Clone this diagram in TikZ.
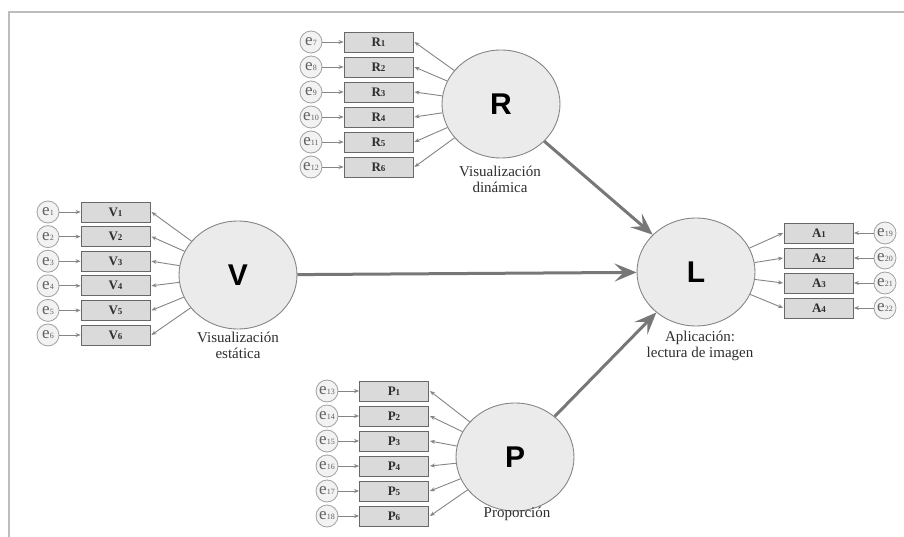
\documentclass[tikz,border=0pt]{standalone}
\usepackage{fontspec}
\setmainfont{Liberation Serif}
\newfontfamily\arialf{Liberation Sans}
\usetikzlibrary{arrows.meta,shapes.geometric}
\definecolor{framec}{HTML}{BDBDBD}
\definecolor{latfill}{HTML}{EBEBEB}
\definecolor{latdraw}{HTML}{858585}
\definecolor{boxfill}{HTML}{DADADA}
\definecolor{boxdraw}{HTML}{686868}
\definecolor{errfill}{HTML}{F2F2F2}
\definecolor{errdraw}{HTML}{A0A0A0}
\definecolor{arrc}{HTML}{858585}
\definecolor{bigc}{HTML}{777777}
\definecolor{txtc}{HTML}{2E2E2E}
\newcommand{\obslab}[2]{#1{\fontsize{9}{9}\selectfont #2}}
\newcommand{\errlab}[1]{e{\fontsize{8}{8}\selectfont #1}}
\begin{document}
\begin{tikzpicture}[x=1pt,y=-1pt,
  latent/.style={ellipse,draw=latdraw,fill=latfill,line width=0.9pt,minimum width=118pt,minimum height=108pt,inner sep=0pt,font=\arialf\bfseries\fontsize{30}{30}\selectfont,text=black},
  obsbox/.style={rectangle,draw=boxdraw,fill=boxfill,line width=0.9pt,minimum width=69pt,minimum height=20pt,inner sep=0pt,font=\bfseries\fontsize{13}{13}\selectfont,text=txtc},
  errnode/.style={ellipse,draw=errdraw,fill=errfill,line width=0.8pt,minimum width=22pt,minimum height=22pt,inner sep=0pt,font=\fontsize{17}{17}\selectfont,text=black!62},
  lbl/.style={align=center,font=\fontsize{15}{16}\selectfont,text=txtc,inner sep=1pt},
  sarr/.style={draw=arrc,line width=0.9pt,-{Stealth[length=5pt,width=4pt]}},
  barr/.style={draw=bigc,line width=3pt,-{Stealth[length=22pt,width=18pt,inset=9pt]}}]
\useasboundingbox (0,0) rectangle (904,537);
\fill[white] (0,0) rectangle (904,537);
\draw[framec,line width=2pt] (9,538) -- (9,12) -- (905,12);

% latent variables
\node[latent] (R) at (501,104) {R};
\node[latent] (V) at (238,275) {V};
\node[latent] (L) at (696,272) {L};
\node[latent] (P) at (515,457) {P};

% R indicators
\foreach \i/\e in {1/7,2/8,3/9,4/10,5/11,6/12}{
  \node[obsbox] (R\i) at (378.5,{42+25*(\i-1)}) {\obslab{R}{\i}};
  \node[errnode] (eR\i) at (311,{42+25*(\i-1)}) {\errlab{\e}};
  \draw[sarr] (eR\i) -- (R\i);
  \draw[sarr] (R) -- ([xshift=1pt]R\i.east);
}
% V indicators
\foreach \i in {1,...,6}{
  \node[obsbox] (V\i) at (115.5,{212+24.6*(\i-1)}) {\obslab{V}{\i}};
  \node[errnode] (eV\i) at (48,{212+24.6*(\i-1)}) {\errlab{\i}};
  \draw[sarr] (eV\i) -- (V\i);
  \draw[sarr] (V) -- ([xshift=1pt]V\i.east);
}
% P indicators
\foreach \i/\e in {1/13,2/14,3/15,4/16,5/17,6/18}{
  \node[obsbox] (P\i) at (394,{391+25*(\i-1)}) {\obslab{P}{\i}};
  \node[errnode] (eP\i) at (327,{391+25*(\i-1)}) {\errlab{\e}};
  \draw[sarr] (eP\i) -- (P\i);
  \draw[sarr] (P) -- ([xshift=1pt]P\i.east);
}
% A indicators
\foreach \i/\e in {1/19,2/20,3/21,4/22}{
  \node[obsbox] (A\i) at (819,{233+25*(\i-1)}) {\obslab{A}{\i}};
  \node[errnode] (eA\i) at (885,{233+25*(\i-1)}) {\errlab{\e}};
  \draw[sarr] (eA\i) -- (A\i);
  \draw[sarr] (L) -- ([xshift=-1pt]A\i.west);
}

% structural paths
\draw[barr] (R) -- (L);
\draw[barr] (V) -- (L);
\draw[barr] (P) -- (L);

% labels
\node[lbl] (labR) at (500,179) {Visualización\\dinámica};
\node[lbl] (labV) at (238,345) {Visualización\\estática};
\node[lbl] (labL) at (700,346) {Aplicación:\\lectura de imagen};
\node[lbl] (labP) at (517,514) {Proporción};
\end{tikzpicture}
\end{document}
